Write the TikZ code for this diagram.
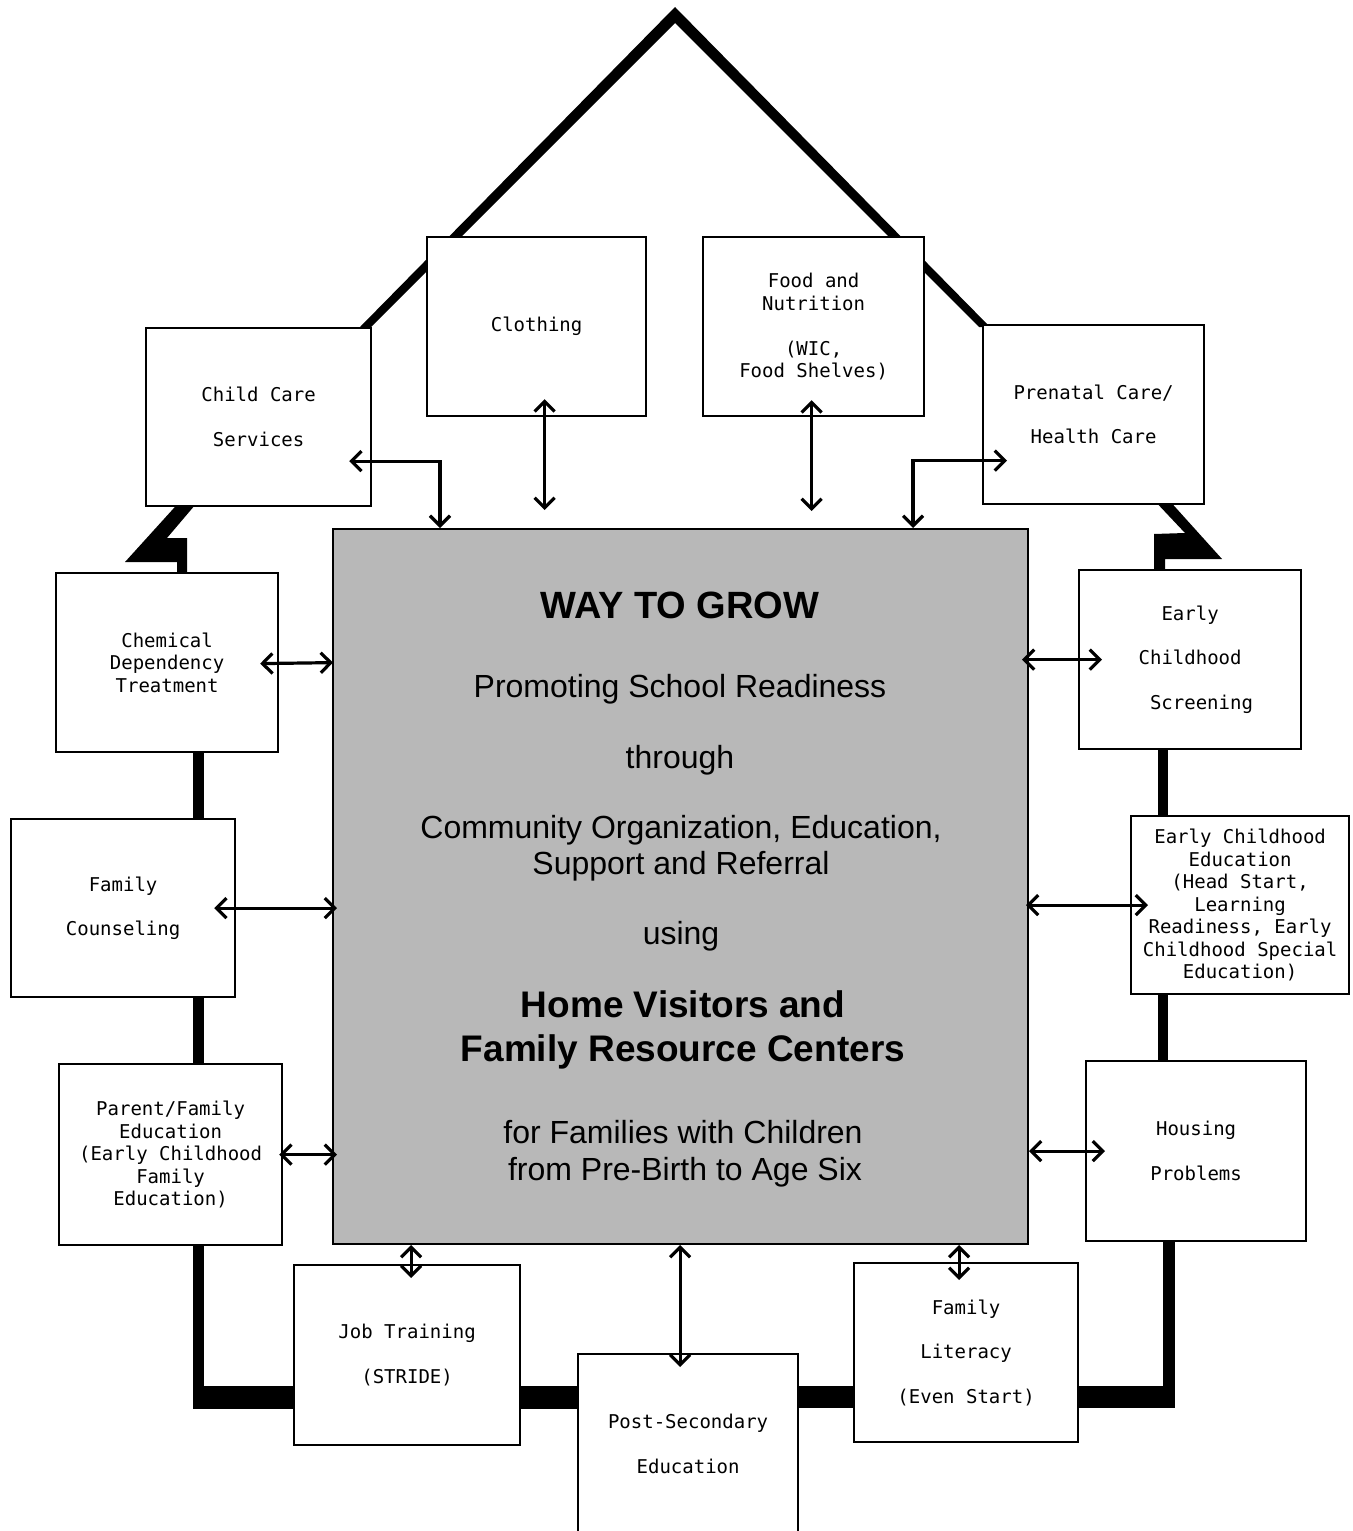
\documentclass[tikz,border=0pt]{standalone}
\usepackage{fontspec}
\setmainfont{Liberation Sans}
\newfontfamily\boxfont{DejaVu Sans Mono}
\usetikzlibrary{arrows.meta,calc}
\begin{document}
\begin{tikzpicture}[x=1pt,y=-1pt,
  box/.style={draw,line width=2.2pt,fill=white,inner sep=0pt,anchor=north west,align=center,font=\boxfont\fontsize{19}{22.5}\selectfont},
  dbl/.style={font=\boxfont\fontsize{19}{44.5}\selectfont},
  dar/.style={line width=3.2pt,{Straight Barb[length=10pt,width=20pt]}-{Straight Barb[length=10pt,width=20pt]}},
  ctext/.style={anchor=base,font=\fontsize{32}{36}\selectfont},
  cbold/.style={anchor=base,font=\bfseries\fontsize{37}{44}\selectfont}]
\useasboundingbox (0,0) rectangle (1352,1531);
% roof
\fill (675,7) -- (990,327) -- (979,327) -- (675,23) -- (371,327) -- (360,327) -- cycle;
% left bracket
\fill (183,498) -- (201,498) -- (167,538) -- (187,538) -- (187,576) -- (177,576) -- (177,562) -- (125,562) -- cycle;
% right bracket
\fill (1152,498) -- (1167,498) -- (1222,559) -- (1165,559) -- (1165,573) -- (1154,573) -- (1154,534) -- (1185,533) -- cycle;
% walls
\fill (193,745) rectangle (204,1409);
\fill (193,1386) rectangle (300,1409);
\fill (510,1386) rectangle (585,1409);
\fill (790,1386) rectangle (860,1408);
\fill (1070,1386) rectangle (1175,1408);
\fill (1158,740) rectangle (1168,1065);
\fill (1163,1235) rectangle (1175,1408);
% boxes
\node[box,dbl,minimum width=225pt,minimum height=178pt] (cc) at (145,327) {Child Care\\Services};
\node[box,minimum width=219pt,minimum height=179pt] (cl) at (426,236) {Clothing};
\node[box,minimum width=221pt,minimum height=179pt] (fn) at (702,236) {Food and\\Nutrition\\[22.5pt](WIC,\\Food Shelves)};
\node[box,dbl,minimum width=221pt,minimum height=179pt] (pc) at (982,324) {Prenatal Care/\\Health Care};
\node[box,fill=black!28,line width=2pt,minimum width=695pt,minimum height=715pt] (cen) at (332,528) {};
\node[box,minimum width=222pt,minimum height=179pt] (cd) at (55,572) {Chemical\\Dependency\\Treatment};
\node[box,dbl,minimum width=224pt,minimum height=178pt] (fc) at (10,818) {Family\\Counseling};
\node[box,minimum width=223pt,minimum height=181pt] (pf) at (58,1063) {Parent/Family\\Education\\(Early Childhood\\Family\\Education)};
\node[box,dbl,minimum width=222pt,minimum height=179pt] (ecs) at (1078,569) {Early\\Childhood\\\hspace*{1.2em}Screening};
\node[box,minimum width=218pt,minimum height=178pt] (ece) at (1130,815) {Early Childhood\\Education\\(Head Start,\\Learning\\Readiness, Early\\Childhood Special\\Education)};
\node[box,dbl,minimum width=220pt,minimum height=180pt] (hp) at (1085,1060) {Housing\\Problems};
\node[box,dbl,minimum width=226pt,minimum height=180pt] (jt) at (293,1264) {Job Training\\(STRIDE)};
\node[box,dbl,minimum width=220pt,minimum height=180pt] (ps) at (577,1353) {Post-Secondary\\Education};
\node[box,dbl,minimum width=224pt,minimum height=179pt] (fl) at (853,1262) {Family\\Literacy\\(Even Start)};
% central text
\node[cbold,font=\bfseries\fontsize{38}{44}\selectfont] (t1) at (680,618) {WAY TO GROW};
\node[ctext] (t2) at (680,697) {Promoting School Readiness};
\node[ctext] (t3) at (680,768) {through};
\node[ctext] (t4) at (681,838) {Community Organization, Education,};
\node[ctext] (t5) at (681,874) {Support and Referral};
\node[ctext] (t6) at (681,944) {using};
\node[cbold] (t7) at (683,1017) {Home Visitors and};
\node[cbold] (t8) at (683,1061) {Family Resource Centers};
\node[ctext] (t9) at (683,1143) {for Families with Children};
\node[ctext] (t10) at (685,1180) {from Pre-Birth to Age Six};
% arrows
\draw[dar] ([xshift=-23pt,yshift=-44pt]cc.east) -| ([xshift=108pt]cen.north west);
\draw[dar] ([xshift=8pt,yshift=18pt]cl.south) -- ([xshift=8pt,yshift=18pt]cl.south |- cen.north);
\draw[dar] ([xshift=-2pt,yshift=17pt]fn.south) -- ([xshift=-2pt,yshift=17pt]fn.south |- cen.north);
\draw[dar] ([xshift=581pt]cen.north west) |- ([xshift=25pt,yshift=-46pt]pc.west);
\draw[dar] ([xshift=-19pt,yshift=-1pt]cd.east) -- ([xshift=1pt]cen.west |- cd.east);
\draw[dar] ([xshift=-22pt]fc.east) -- ([xshift=5pt]cen.west |- fc.east);
\draw[dar] ([xshift=-4pt]pf.east) -- ([xshift=5pt]cen.west |- pf.east);
\draw[dar] ([xshift=-7pt]cen.east |- ecs.west) -- ([xshift=24pt]ecs.west);
\draw[dar] ([xshift=-3pt]cen.east |- ece.west) -- ([xshift=18pt]ece.west);
\draw[dar] (cen.east |- hp.west) -- ([xshift=20pt]hp.west);
\draw[dar] ([xshift=4pt]jt.north |- cen.south) -- ([xshift=4pt,yshift=-14pt]jt.north);
\draw[dar] ([xshift=-8pt]ps.north |- cen.south) -- ([xshift=-8pt,yshift=-14pt]ps.north);
\draw[dar] ([xshift=-7pt]fl.north |- cen.south) -- ([xshift=-7pt,yshift=-18pt]fl.north);
\end{tikzpicture}
\end{document}
